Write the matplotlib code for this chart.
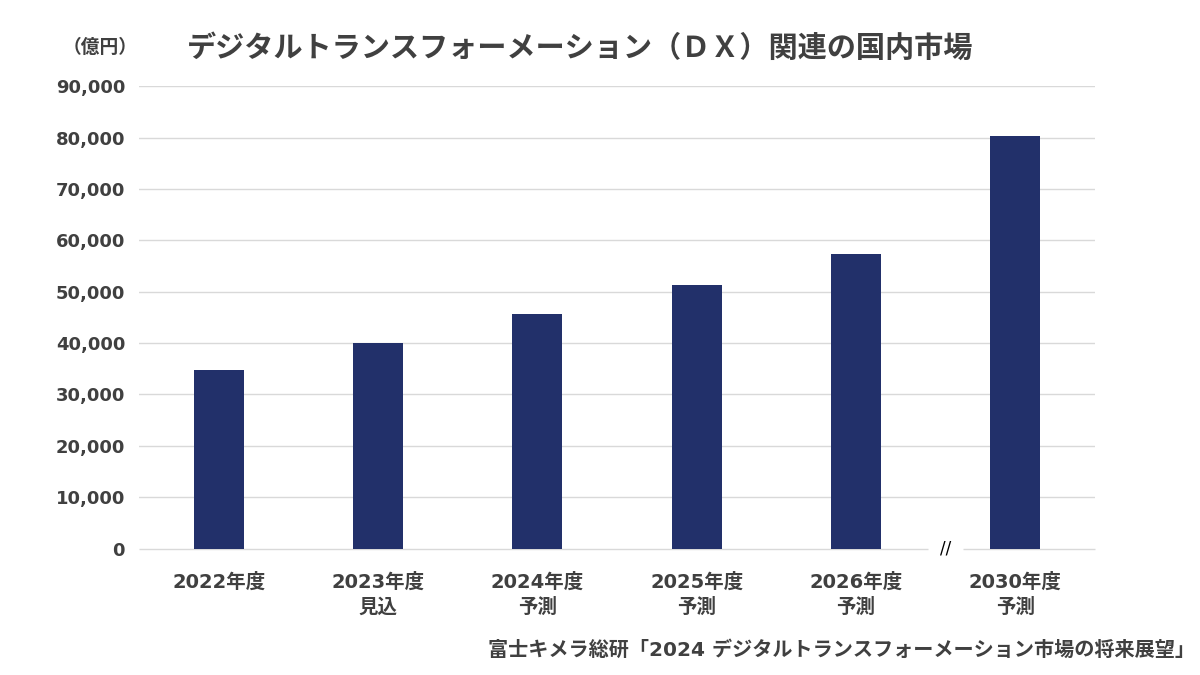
import matplotlib
matplotlib.use("Agg")
import matplotlib.pyplot as plt
import numpy as np

# Latin digits from DejaVu Sans, Japanese from Noto Sans CJK JP
plt.rcParams['font.family'] = ['DejaVu Sans', 'Noto Sans CJK JP']

# data
categories = ["2022年度", "2023年度\n見込", "2024年度\n予測", "2025年度\n予測",
              "2026年度\n予測", "2030年度\n予測"]
values = [34790, 40000, 45710, 51360, 57410, 80400]
yticks = [0, 10000, 20000, 30000, 40000, 50000, 60000, 70000, 80000, 90000]

title = "デジタルトランスフォーメーション（ＤＸ）関連の国内市場"
unit = "（億円）"
source = "富士キメラ総研「2024 デジタルトランスフォーメーション市場の将来展望」"

text_col = '#404040'
bar_col = '#22306a'
grid_col = '#d9d9d9'

fig = plt.figure(figsize=(12, 6.75), dpi=100)
ax = fig.add_axes([0.1158, 0.1874, 0.7967, 0.6848])

x = np.arange(len(categories))
ax.bar(x, values, width=0.313, color=bar_col, zorder=3)

ax.set_xlim(-0.5, 5.5)
ax.set_ylim(0, 90000)

for t in yticks[1:]:
    ax.axhline(t, color=grid_col, lw=1.0, zorder=1)
# baseline with a break before 2030
ax.hlines(0, -0.5, 4.449, color=grid_col, lw=1.0, zorder=1, clip_on=False)
ax.hlines(0, 4.674, 5.5, color=grid_col, lw=1.0, zorder=1, clip_on=False)
ax.text(4.56, 0, "//", ha='center', va='center', fontsize=12,
        color='black', clip_on=False)

for s in ax.spines.values():
    s.set_visible(False)

ax.set_yticks(yticks)
ax.set_yticklabels([f"{v:,}" for v in yticks])
ax.set_xticks(x)
ax.set_xticklabels(categories, linespacing=1.4)
ax.tick_params(axis='both', length=0, colors=text_col)
ax.tick_params(axis='y', pad=10, labelsize=13)
ax.tick_params(axis='x', pad=17, labelsize=14)
for lab in ax.get_xticklabels() + ax.get_yticklabels():
    lab.set_fontweight('bold')

fig.text(0.483, 0.929, title, ha='center', va='center', fontsize=21,
         fontweight='bold', color=text_col)
fig.text(0.115, 0.929, unit, ha='right', va='center', fontsize=13.5,
         fontweight='bold', color=text_col)
fig.text(0.996, 0.037, source, ha='right', va='center', fontsize=14.5,
         fontweight='bold', color=text_col)

fig.savefig("out.png", dpi=100)
